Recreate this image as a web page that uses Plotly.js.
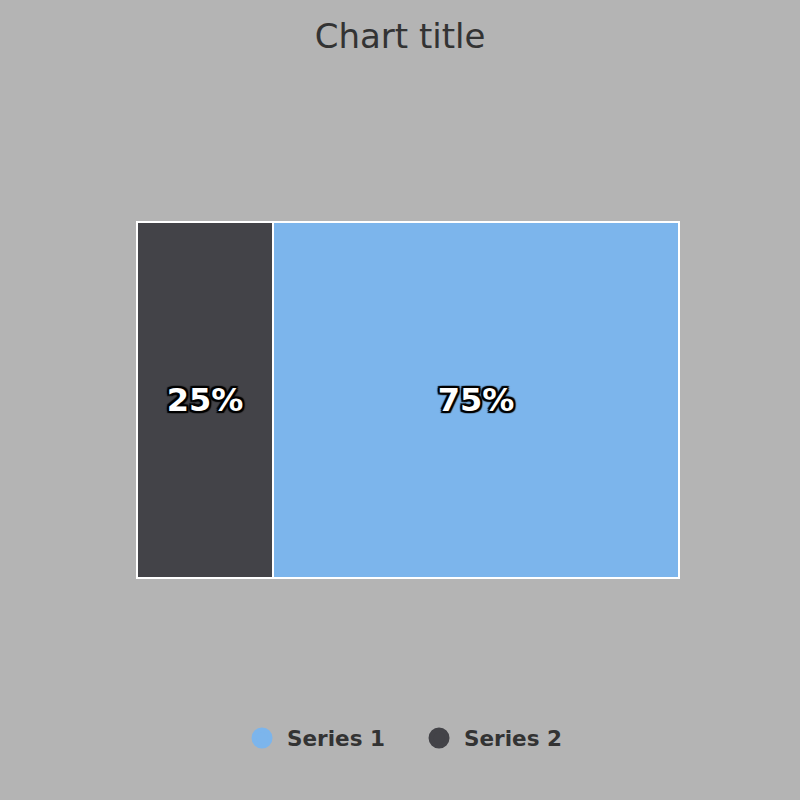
<!DOCTYPE html>
<html>
<head>
<meta charset="utf-8">
<script src="https://cdn.plot.ly/plotly-3.0.1.min.js"></script>
<style>
  html, body { margin: 0; padding: 0; background: #b4b4b4; }
  #chart { width: 800px; height: 800px; }
</style>
</head>
<body>
<div id="chart"></div>
<script>
main();

function main() {
    // one category, two series stacked to 100%
    let category = ['Share']
    let seriesNames = ['Series 1', 'Series 2']
    let seriesValues = [75, 25]
    let seriesColors = ['#7cb5ec', '#434348']

    let outline = '2px 2px 1px #000, -2px -2px 1px #000, 2px -2px 1px #000, -2px 2px 1px #000, 0 2px 1px #000, 0 -2px 1px #000, 2px 0 1px #000, -2px 0 1px #000'
    let traces = []

    // series 2 goes first so it sits on the left
    for (let i = seriesNames.length - 1; i >= 0; i--) {
        traces.push({
            type: 'bar',
            orientation: 'h',
            y: category,
            x: [seriesValues[i]],
            name: seriesNames[i],
            legendgroup: seriesNames[i],
            showlegend: false,
            width: 1,
            marker: {color: seriesColors[i], line: {color: '#ffffff', width: 2}},
            text: [seriesValues[i] + '%'],
            textposition: 'inside',
            insidetextanchor: 'middle',
            textangle: 0,
            textfont: {family: 'DejaVu Sans', size: 32, color: '#ffffff', weight: 'bold', shadow: outline},
            hoverinfo: 'name+x'
        });
    }

    // round legend markers
    for (let i = 0; i < seriesNames.length; i++) {
        traces.push({
            type: 'scatter',
            mode: 'markers',
            x: [null],
            y: [null],
            name: seriesNames[i],
            legendgroup: seriesNames[i],
            marker: {color: seriesColors[i], size: 16, symbol: 'circle', line: {color: seriesColors[i], width: 5}},
            hoverinfo: 'skip'
        });
    }

    // a little slack round the ranges so the white outline is not clipped
    let padX = 3 / 5.42
    let padY = 3 / 356

    let layout = {
        width: 800,
        height: 800,
        paper_bgcolor: '#b4b4b4',
        plot_bgcolor: '#b4b4b4',
        font: {family: 'DejaVu Sans', color: '#333333'},
        title: {
            text: 'Chart title',
            font: {family: 'DejaVu Sans', size: 34, color: '#333333'},
            x: 0.5,
            xanchor: 'center',
            y: 0.955,
            yanchor: 'middle'
        },
        margin: {l: 134, r: 118, t: 219, b: 219, pad: 0},
        barmode: 'stack',
        bargap: 0,
        xaxis: {range: [-padX, 100 + padX], visible: false, fixedrange: true},
        yaxis: {range: [-0.5 - padY, 0.5 + padY], visible: false, fixedrange: true},
        showlegend: true,
        legend: {
            orientation: 'h',
            x: 0.511,
            xanchor: 'center',
            y: -0.4337,
            yanchor: 'middle',
            bgcolor: 'rgba(0,0,0,0)',
            traceorder: 'normal',
            itemwidth: 40,
            entrywidth: 122,
            font: {family: 'DejaVu Sans', size: 21.5, color: '#333333', weight: 'bold'}
        }
    };

    Plotly.newPlot('chart', traces, layout, {displayModeBar: false});
}
</script>
</body>
</html>
